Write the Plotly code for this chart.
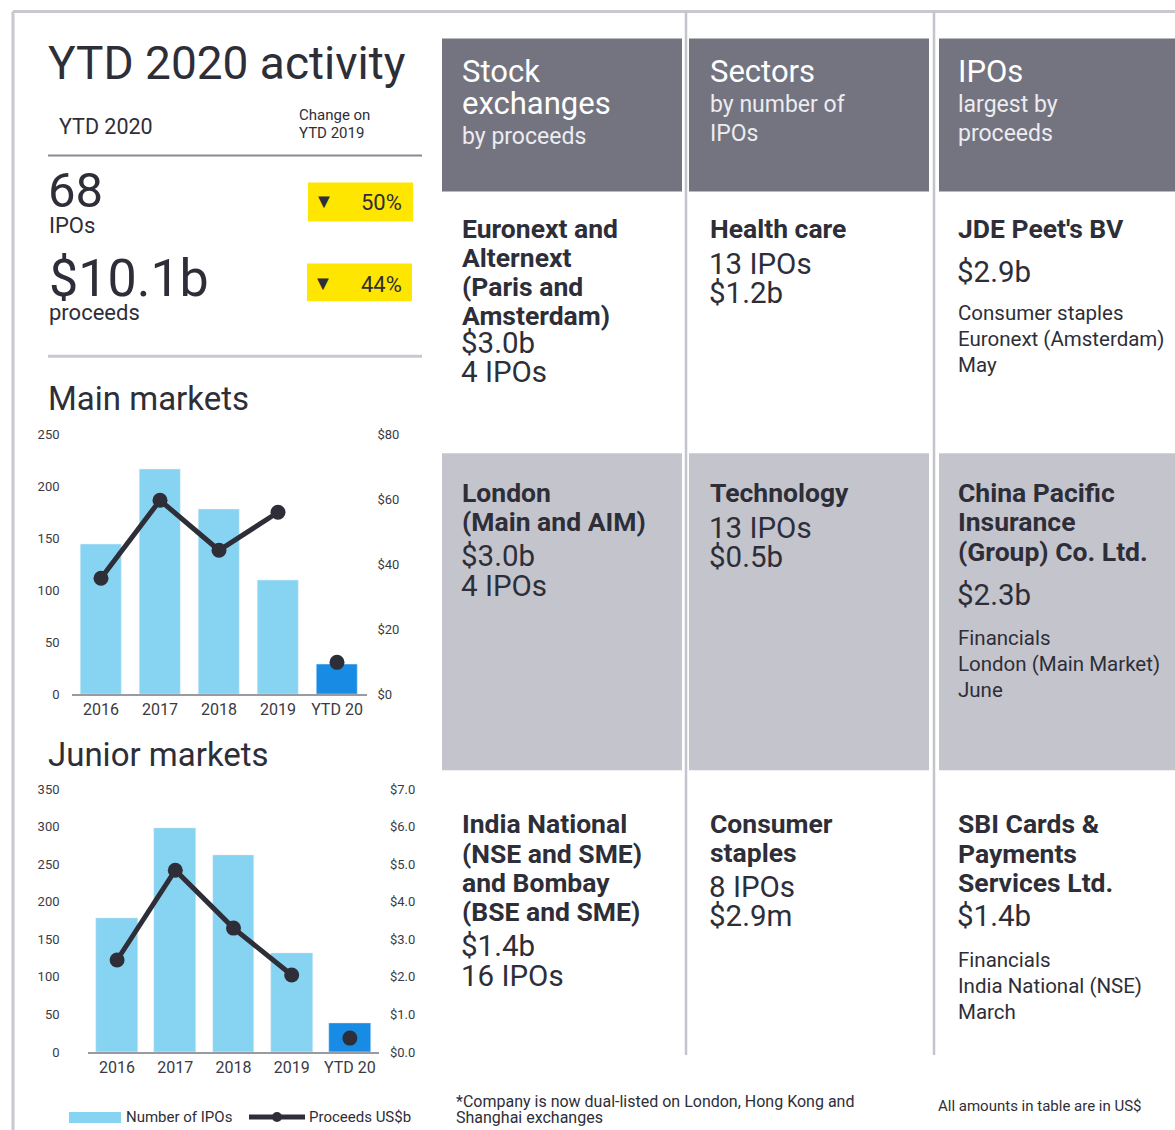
import plotly.graph_objects as go

W, H = 1175, 1130
FONT = "Roboto"
DARK = "#2e2e38"
AXIS_TXT = "#3a3a44"
LIGHT_BLUE = "#87d3f2"
BLUE = "#188ce5"
YELLOW = "#ffe600"
HEAD_GREY = "#747480"
ROW_GREY = "#c4c4cd"
RULE_GREY = "#c8c8d0"

# ---- data ----
years = ["2016", "2017", "2018", "2019", "YTD 20"]
main_ipos = [144, 216, 178, 110, 29]
main_proceeds = [35.7, 59.7, 44.3, 56.0, 9.8]
junior_ipos = [178, 298, 262, 132, 39]
junior_proceeds = [2.45, 4.84, 3.3, 2.05, 0.37]

main_left_ticks = [0, 50, 100, 150, 200, 250]
main_right_ticks = [0, 20, 40, 60, 80]
junior_left_ticks = [0, 50, 100, 150, 200, 250, 300, 350]
junior_right_ticks = [0, 1, 2, 3, 4, 5, 6, 7]

ytd_ipos = "68"
ytd_proceeds = "$10.1b"
chg_ipos = "50%"
chg_proceeds = "44%"

headers = [
    ("Stock", "exchanges", "by proceeds"),
    ("Sectors", "by number of", "IPOs"),
    ("IPOs", "largest by", "proceeds"),
]

bar_colors = [LIGHT_BLUE] * 4 + [BLUE]

# the page photo comes out slightly squeezed vertically; undo it here
OFF, SQ = 6.49, 0.9872


def X(px):
    return px / W


def Y(py):
    return 1 - ((py - OFF) / SQ) / H


annotations = []
shapes = []


def text(x, y, s, size, color=DARK, bold=False, anchor="left"):
    annotations.append(dict(
        x=X(x), y=Y(y), xref="paper", yref="paper", showarrow=False,
        text=f"<b>{s}</b>" if bold else s, xanchor=anchor, yanchor="middle",
        font=dict(family=FONT, size=size, color=color),
    ))


def rect(x0, y0, x1, y1, color):
    shapes.append(dict(type="rect", xref="paper", yref="paper", x0=X(x0), x1=X(x1),
                       y0=Y(y1), y1=Y(y0), fillcolor=color, line=dict(width=0), layer="below"))


def line(x0, y0, x1, y1, color, width):
    shapes.append(dict(type="line", xref="paper", yref="paper", x0=X(x0), x1=X(x1),
                       y0=Y(y0), y1=Y(y1), line=dict(color=color, width=width), layer="below"))


fig = go.Figure()

# main markets
fig.add_trace(go.Bar(x=years, y=main_ipos, marker_color=bar_colors, width=0.71,
                     xaxis="x", yaxis="y", hoverinfo="skip"))
fig.add_trace(go.Scatter(x=years[:4], y=main_proceeds[:4], mode="lines+markers",
                         line=dict(color=DARK, width=5), marker=dict(size=15, color=DARK),
                         xaxis="x", yaxis="y2"))
fig.add_trace(go.Scatter(x=years[4:], y=main_proceeds[4:], mode="markers",
                         marker=dict(size=15, color=DARK), xaxis="x", yaxis="y2"))

# junior markets
fig.add_trace(go.Bar(x=years, y=junior_ipos, marker_color=bar_colors, width=0.72,
                     xaxis="x2", yaxis="y3", hoverinfo="skip"))
fig.add_trace(go.Scatter(x=years[:4], y=junior_proceeds[:4], mode="lines+markers",
                         line=dict(color=DARK, width=5), marker=dict(size=15, color=DARK),
                         xaxis="x2", yaxis="y4"))
fig.add_trace(go.Scatter(x=years[4:], y=junior_proceeds[4:], mode="markers",
                         marker=dict(size=15, color=DARK), xaxis="x2", yaxis="y4"))

xcommon = dict(type="category", range=[-0.5, 4.5], showline=True, linecolor="#9a9aa2",
               linewidth=2, ticks="", showgrid=False, zeroline=False, fixedrange=True,
               tickfont=dict(family=FONT, size=16, color=AXIS_TXT))
ycommon = dict(showgrid=False, zeroline=False, showline=False, ticks="", fixedrange=True,
               tickfont=dict(family=FONT, size=13, color=AXIS_TXT))

fig.update_layout(
    xaxis=dict(xcommon, domain=[X(71.5), X(366.5)], anchor="y"),
    yaxis=dict(ycommon, domain=[Y(694), Y(434)], range=[0, 250], tickvals=main_left_ticks,
               ticklabelstandoff=11),
    yaxis2=dict(ycommon, overlaying="y", side="right", anchor="x", range=[0, 80],
                tickvals=main_right_ticks, ticktext=[f"${v}" for v in main_right_ticks],
                ticklabelstandoff=10),
    xaxis2=dict(xcommon, domain=[X(88), X(379)], anchor="y3"),
    yaxis3=dict(ycommon, domain=[Y(1052), Y(789)], range=[0, 350], tickvals=junior_left_ticks,
                ticklabelstandoff=11),
    yaxis4=dict(ycommon, overlaying="y3", side="right", anchor="x2", range=[0, 7],
                tickvals=junior_right_ticks, ticktext=[f"${v:.1f}" for v in junior_right_ticks],
                ticklabelstandoff=10),
)

# frame
line(13, 11, 13, 1135, RULE_GREY, 3)
line(13, 11, 1175, 11, RULE_GREY, 3)

# left panel
text(46, 63, "YTD 2020 activity", 46)
text(57, 126, "YTD 2020", 21.5)
text(297, 115, "Change on", 15)
text(297, 133, "YTD 2019", 15)
line(48, 155, 422, 155, "#8a8a92", 2)
text(46, 190, ytd_ipos, 49)
text(47, 225, "IPOs", 22)
rect(308, 182, 413, 221, YELLOW)
text(324, 201, "▼", 20, anchor="center")
text(404, 202, chg_ipos, 22, anchor="right")
text(47, 278, ytd_proceeds, 52)
text(47, 312, "proceeds", 22)
rect(307, 263, 412, 301, YELLOW)
text(323, 283, "▼", 20, anchor="center")
text(404, 284, chg_proceeds, 22, anchor="right")
line(48, 356, 422, 356, RULE_GREY, 3)
text(46, 398, "Main markets", 33)
text(46, 754, "Junior markets", 33)

# legend
rect(69, 1112, 121, 1123, LIGHT_BLUE)
text(124, 1117, "Number of IPOs", 15)
line(249, 1117, 305, 1117, DARK, 5)
shapes.append(dict(type="circle", xref="paper", yref="paper", x0=X(272), x1=X(282),
                   y0=Y(1122), y1=Y(1112), fillcolor=DARK, line=dict(width=0)))
text(307, 1117, "Proceeds US$b", 15)

# table backgrounds
cols = [(442, 682), (689, 929), (939, 1175)]
line(686, 12, 686, 1055, ROW_GREY, 2.5)
line(934, 12, 934, 1055, ROW_GREY, 2.5)
for x0, x1 in cols:
    rect(x0, 38, x1, 191, HEAD_GREY)
    rect(x0, 453, x1, 770, ROW_GREY)

# headers
SUB = "#ececf0"
text(460, 71, headers[0][0], 31, "white")
text(460, 103, headers[0][1], 31, "white")
text(460, 136, headers[0][2], 23, SUB)
text(708, 71, headers[1][0], 31, "white")
text(708, 104, headers[1][1], 23, SUB)
text(708, 133, headers[1][2], 23, SUB)
text(956, 71, headers[2][0], 31, "white")
text(956, 104, headers[2][1], 23, SUB)
text(956, 133, headers[2][2], 23, SUB)

B, R, S = 26.5, 29.5, 20.5

# row 1
for s, y in [("Euronext and", 228), ("Alternext", 257), ("(Paris and", 286), ("Amsterdam)", 315)]:
    text(460, y, s, B, bold=True)
text(459, 343, "$3.0b", R)
text(459, 372, "4 IPOs", R)
text(708, 228, "Health care", B, bold=True)
text(707, 264, "13 IPOs", R)
text(707, 293, "$1.2b", R)
text(956, 228, "JDE Peet's BV", B, bold=True)
text(955, 272, "$2.9b", R)
text(956, 313, "Consumer staples", S)
text(956, 339, "Euronext (Amsterdam)", S)
text(956, 365, "May", S)

# row 2
text(460, 492, "London", B, bold=True)
text(460, 521, "(Main and AIM)", B, bold=True)
text(459, 556, "$3.0b", R)
text(459, 586, "4 IPOs", R)
text(708, 492, "Technology", B, bold=True)
text(707, 528, "13 IPOs", R)
text(707, 557, "$0.5b", R)
for s, y in [("China Pacific", 492), ("Insurance", 521), ("(Group) Co. Ltd.", 551)]:
    text(956, y, s, B, bold=True)
text(955, 595, "$2.3b", R)
text(956, 638, "Financials", S)
text(956, 664, "London (Main Market)", S)
text(956, 690, "June", S)

# row 3
for s, y in [("India National", 823), ("(NSE and SME)", 853), ("and Bombay", 882), ("(BSE and SME)", 911)]:
    text(460, y, s, B, bold=True)
text(459, 946, "$1.4b", R)
text(459, 976, "16 IPOs", R)
text(708, 823, "Consumer", B, bold=True)
text(708, 852, "staples", B, bold=True)
text(707, 887, "8 IPOs", R)
text(707, 916, "$2.9m", R)
for s, y in [("SBI Cards &", 823), ("Payments", 853), ("Services Ltd.", 882)]:
    text(956, y, s, B, bold=True)
text(955, 916, "$1.4b", R)
text(956, 960, "Financials", S)
text(956, 986, "India National (NSE)", S)
text(956, 1012, "March", S)

# footnotes
text(454, 1102, "*Company is now dual-listed on London, Hong Kong and", 16)
text(454, 1118, "Shanghai exchanges", 16)
text(936, 1106, "All amounts in table are in US$", 15)

fig.update_layout(
    width=W, height=H, margin=dict(l=0, r=0, t=0, b=0),
    paper_bgcolor="white", plot_bgcolor="rgba(0,0,0,0)",
    showlegend=False, bargap=0,
    annotations=annotations, shapes=shapes,
    font=dict(family=FONT, color=DARK),
)

fig.write_html("out.html", config={"displayModeBar": False},
               post_script="document.body.style.margin='0';document.body.style.overflow='hidden';")
